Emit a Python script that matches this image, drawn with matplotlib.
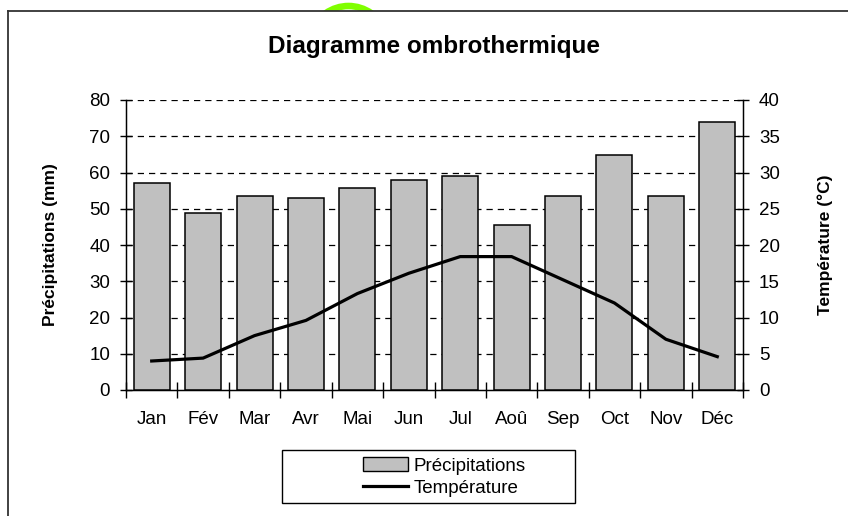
import matplotlib
matplotlib.use("Agg")
import matplotlib.pyplot as plt
from matplotlib.patches import Rectangle, Wedge
from matplotlib.lines import Line2D
from matplotlib.transforms import IdentityTransform, Bbox
import numpy as np

plt.rcParams['font.family'] = ['Liberation Sans', 'DejaVu Sans']

months = ["Jan", "Fév", "Mar", "Avr", "Mai", "Jun", "Jul", "Aoû", "Sep", "Oct", "Nov", "Déc"]
precip = [57.1, 48.9, 53.6, 53.1, 55.8, 58.0, 59.1, 45.4, 53.6, 64.8, 53.6, 73.9]
temp = [4.0, 4.4, 7.5, 9.6, 13.3, 16.1, 18.4, 18.4, 15.2, 12.0, 7.0, 4.6]
left_ticks = [0, 10, 20, 30, 40, 50, 60, 70, 80]
right_ticks = [0, 5, 10, 15, 20, 25, 30, 35, 40]

W, H = 848, 516
fig = plt.figure(figsize=(W / 100, H / 100), dpi=100)

ax = fig.add_axes([126 / W, 1 - 390 / H, (743 - 126) / W, 290 / H])
x = np.arange(len(months))

ax.bar(x, precip, width=0.70, color="#c0c0c0", edgecolor="black", linewidth=1.1, zorder=3)
ax.set_xlim(-0.5, len(months) - 0.5)
ax.set_ylim(0, 80)
ax.set_yticks(left_ticks)
ax.set_xticks(x)
ax.set_xticklabels(months)
ax.set_xticks(np.arange(-0.5, len(months), 1), minor=True)
ax.tick_params(axis='x', which='major', length=0, pad=15, labelsize=13.5)
ax.tick_params(axis='x', which='minor', direction='inout', length=12, width=1)
ax.tick_params(axis='y', direction='inout', length=9, width=1, pad=7, labelsize=13.5)
for y in left_ticks[1:]:
    ax.axhline(y, color="black", linewidth=0.9, linestyle=(0, (5, 4)), zorder=1)
ax.spines['top'].set_visible(False)
for s in ['left', 'bottom', 'right']:
    ax.spines[s].set_linewidth(1)
ax.set_ylabel("Précipitations (mm)", fontsize=12.5, fontweight='bold', labelpad=22)

ax2 = ax.twinx()
ax2.plot(x, temp, color="black", linewidth=2.3, zorder=4)
ax2.set_ylim(0, 40)
ax2.set_yticks(right_ticks)
ax2.tick_params(axis='y', direction='inout', length=9, width=1, pad=7, labelsize=13.5)
ax2.spines['top'].set_visible(False)
ax2.set_ylabel("Température (°C)", fontsize=12.5, fontweight='bold', labelpad=27)

fig.text(434 / W, 1 - 47 / H, "Diagramme ombrothermique", ha='center', va='center',
         fontsize=17.5, fontweight='bold')

# legend
fig.patches.append(Rectangle((282 / W, 1 - 503 / H), (575 - 282) / W, 53 / H,
                             transform=fig.transFigure, fill=False, edgecolor='black',
                             linewidth=1))
handles = [Rectangle((0, 0), 1, 1, facecolor="#c0c0c0", edgecolor="black", linewidth=1),
           Line2D([0], [0], color="black", linewidth=2.3)]
fig.legend(handles, ["Précipitations", "Température"], loc='center',
           bbox_to_anchor=(444 / W, 1 - 477 / H), frameon=False, fontsize=13.5,
           handlelength=2.4, handleheight=0.75, handletextpad=0.3, labelspacing=0.25,
           borderpad=0)

# green ring, only its top visible above the frame
ring = Wedge((348.5, H - 45.7), 43, 20, 160, width=6.6, transform=IdentityTransform(),
             facecolor="#80ff00", edgecolor="none", zorder=0)
ring.set_clip_box(Bbox.from_extents(0, H - 11, W, H))
fig.patches.append(ring)

# outer frame
fig.lines.append(Line2D([8 / W, 8 / W], [0, 1 - 11 / H], transform=fig.transFigure,
                        color="#333333", linewidth=1.3))
fig.lines.append(Line2D([8 / W, 1], [1 - 11 / H, 1 - 11 / H], transform=fig.transFigure,
                        color="#333333", linewidth=1.3))

fig.savefig("out.png", dpi=100)
